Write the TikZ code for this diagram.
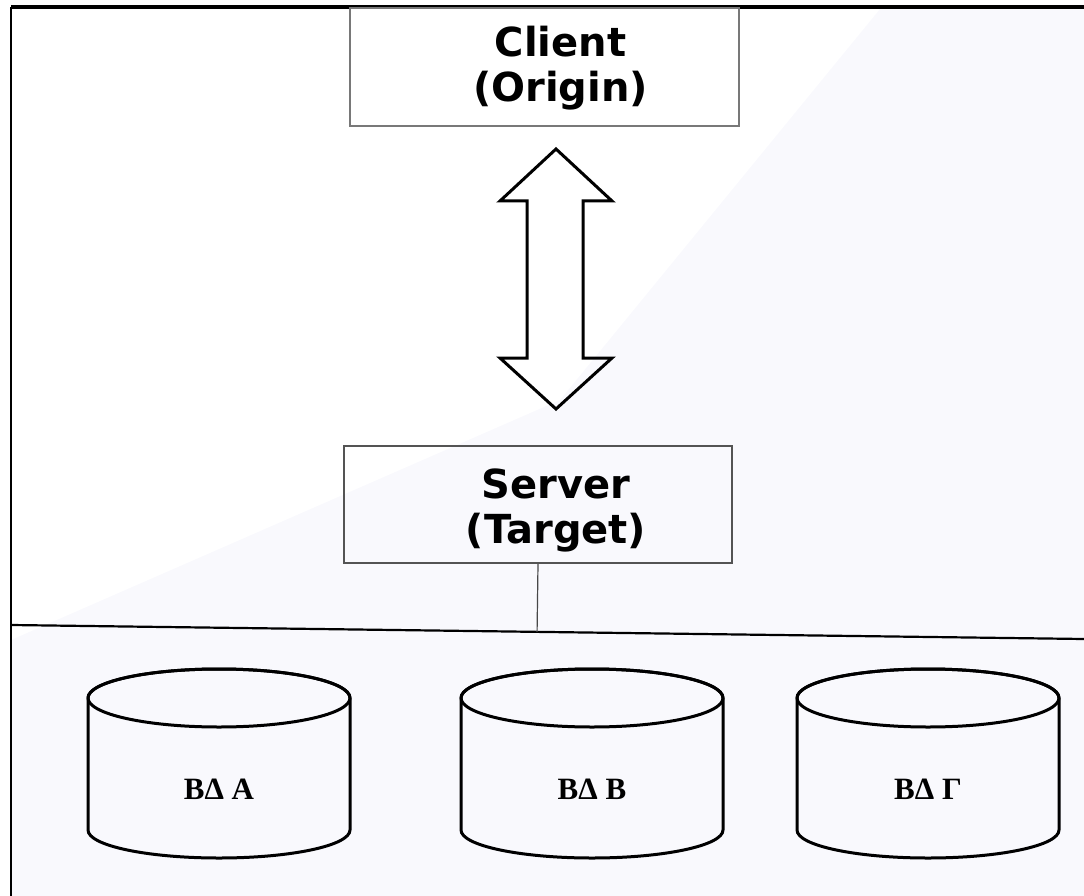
\documentclass[tikz,border=0pt]{standalone}
\usepackage{fontspec}
\setmainfont{Liberation Serif}
\newfontfamily\boxfont{DejaVu Sans}
\usetikzlibrary{calc}

\definecolor{bgtint}{RGB}{249,249,253}
\definecolor{boxgray}{RGB}{120,120,120}
\tikzset{
  boxnode/.style={draw=boxgray,line width=2pt,minimum width=389pt,minimum height=118pt,inner sep=0pt},
  boxtext/.style={font=\boxfont\bfseries\fontsize{40}{45}\selectfont,align=center},
  dblabel/.style={font=\bfseries\fontsize{31}{36}\selectfont},
  disk/.style={line width=3pt,line join=round},
}
% database disk: centre x, node name, label
\newcommand{\dbdisk}[3]{%
  \draw[disk] (#1-131,698) -- (#1-131,830) arc[start angle=180,end angle=0,x radius=131,y radius=28]
    -- (#1+131,698) arc[start angle=0,end angle=-180,x radius=131,y radius=29];
  \draw[disk] (#1,698) ellipse[x radius=131,y radius=29];
  \node[dblabel] (#2) at (#1,789) {#3};
}

\begin{document}
\begin{tikzpicture}[x=1pt,y=-1pt] % 1 unit = 1 pixel of the page
  \useasboundingbox (0,0) rectangle (1084,896);
  \fill[bgtint] (11,640) -- (560,400) -- (880,9) -- (1084,9) -- (1084,896) -- (11,896) -- cycle;
  \draw[line width=3.5pt] (1084,7) -- (11,7);
  \draw[line width=2.5pt] (11,7) -- (11,896);

  \node[boxnode] (C1) at (544.5,67) {};
  \node[boxtext] (C2) at ([xshift=16pt,yshift=-1pt]C1.center) {Client\\(Origin)};
  \node[boxnode,draw=boxgray!70!black,line width=1.6pt,minimum width=388pt,minimum height=117pt] (S1) at (538,504.5) {};
  \node[boxtext] (S2) at ([xshift=18pt,yshift=-6pt]S1.center) {Server\\(Target)};

  % double arrow between client and server
  \draw[line width=3pt,line join=miter] (556,149) -- (612,201) -- (583,201) -- (583,358) -- (612,358) -- (556,409)
    -- (500,358) -- (527,358) -- (527,201) -- (500,201) -- cycle;

  \coordinate (L1) at (11,625);\coordinate (L2) at (1084,639);
  \draw[line width=2.2pt] (L1) -- (L2);
  \draw[draw=boxgray!60!black,line width=1.2pt] (S1.south) -- ($(L1)!(S1.south)!(L2)$);

  \dbdisk{219}{D1}{ΒΔ Α}
  \dbdisk{592}{D2}{ΒΔ Β}
  \dbdisk{928}{D3}{ΒΔ Γ}
\end{tikzpicture}
\end{document}
